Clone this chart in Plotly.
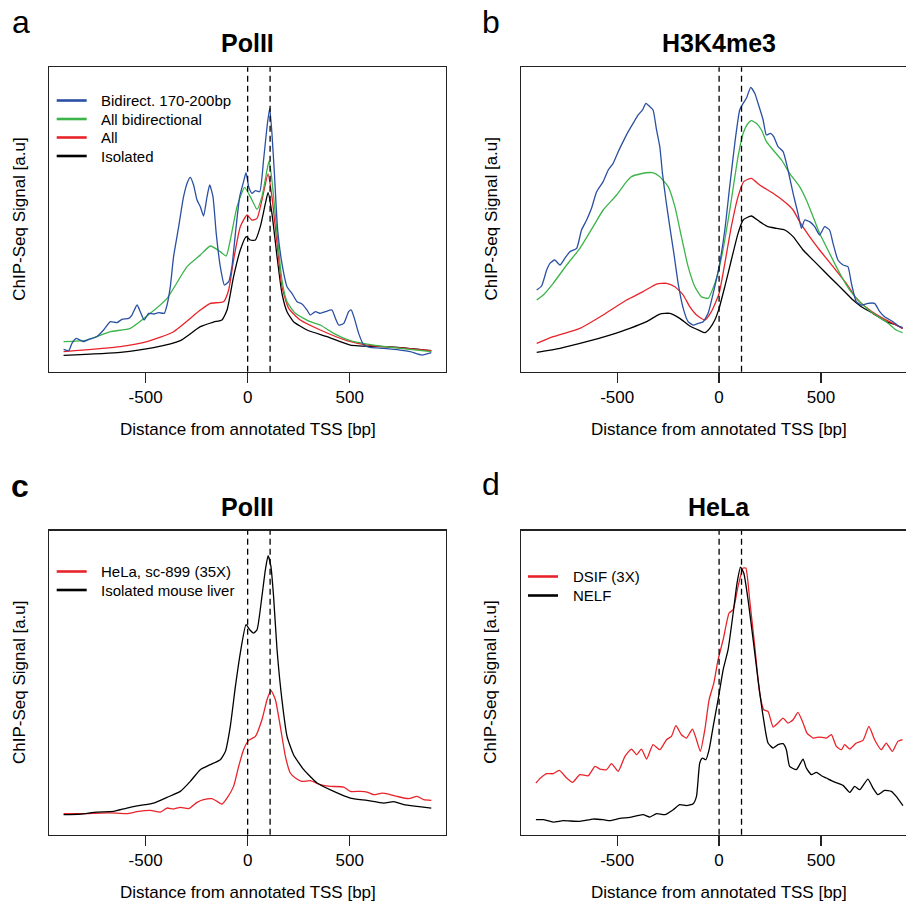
import plotly.graph_objects as go

# ---------------- data (x: bp from TSS, y: signal a.u.) ----------------
# Panel a: PolII
a_blue_x = [-902,-877,-861,-840,-804,-779,-739,-706,-673,-641,-616,-583,-567,-542,-526,-507,-485,-461,-436,-409,-395,-379,-363,-338,-314,-294,-281,-265,-248,-232,-216,-199,-186,-170,-154,-134,-114,-93,-77,-60,-39,-20,-8,5,21,38,59,78,95,108,119,131,147,168,193,217,242,266,291,307,332,356,381,413,430,446,471,495,508,523,544,569,601,667,748,797,855,900]
a_blue_y = [67,63,85,100,90,97,105,125,150,147,157,160,170,200,180,155,175,173,177,175,200,255,345,435,525,570,583,560,515,495,467,525,560,525,415,315,260,270,315,415,525,570,597,555,535,543,540,635,735,790,715,595,425,325,255,235,210,203,185,170,180,175,180,185,160,140,145,180,185,160,115,80,73,70,65,60,50,57]
a_green_x = [-902,-788,-673,-575,-477,-395,-297,-232,-183,-134,-105,-85,-52,-15,13,46,70,95,105,119,144,168,193,234,307,356,422,503,585,748,900]
a_green_y = [90,95,120,130,175,220,315,350,377,360,347,395,495,553,525,487,525,605,632,575,415,275,210,175,150,140,115,93,83,70,60]
a_red_x = [-902,-624,-493,-363,-232,-183,-118,-93,-69,-36,-3,21,46,70,100,119,144,168,201,258,356,487,585,716,900]
a_red_y = [60,75,90,120,185,205,210,245,335,435,470,455,460,515,593,525,385,255,190,155,125,93,80,73,63]
a_black_x = [-902,-624,-461,-330,-232,-167,-126,-101,-69,-36,-7,13,38,62,87,100,119,144,168,193,225,291,389,503,667,748,900]
a_black_y = [49,58,72,93,135,149,155,185,285,365,405,395,395,435,505,537,475,345,235,180,150,125,105,80,75,72,63]

# Panel b: H3K4me3
b_blue_x = [-895,-871,-846,-830,-806,-781,-757,-732,-699,-675,-650,-626,-601,-569,-544,-520,-495,-471,-446,-422,-397,-376,-359,-340,-324,-307,-291,-278,-261,-242,-222,-201,-176,-152,-127,-103,-78,-54,-29,0,28,52,77,101,118,134,155,175,191,216,232,252,268,289,314,338,363,387,404,420,444,469,493,518,542,559,583,608,632,649,673,698,730,763,788,812,853,886,900]
b_blue_y = [245,257,305,325,335,320,340,360,370,425,455,490,540,570,605,625,660,690,720,745,770,785,805,795,785,725,675,595,515,435,355,265,190,150,140,145,150,175,235,315,425,555,685,785,805,820,853,835,805,755,710,715,705,675,660,605,535,475,430,455,450,435,410,435,425,385,335,320,315,265,210,200,205,205,180,165,150,135,133]
b_green_x = [-895,-863,-814,-748,-683,-618,-569,-503,-454,-430,-389,-327,-291,-250,-217,-185,-152,-119,-87,-54,-21,0,28,60,93,118,142,158,183,208,232,265,306,346,395,428,461,493,542,592,641,690,755,820,869,900]
b_green_y = [215,230,265,320,370,435,485,530,570,585,593,597,585,555,495,405,315,255,225,220,265,310,395,515,645,715,745,753,745,725,690,665,635,595,555,515,465,415,355,295,245,210,175,150,125,117]
b_red_x = [-895,-814,-683,-569,-454,-373,-307,-258,-217,-176,-144,-111,-70,-38,0,28,60,93,121,158,199,265,330,363,395,444,493,559,624,673,739,804,853,900]
b_red_y = [85,105,130,170,215,240,263,265,255,230,195,170,155,180,235,325,435,525,570,580,560,535,505,485,450,405,365,315,265,220,185,160,145,130]
b_black_x = [-895,-781,-650,-536,-438,-356,-291,-242,-193,-144,-95,-70,-46,-21,0,28,60,93,118,158,199,240,281,322,363,412,477,542,608,657,698,755,820,869,900]
b_black_y = [58,70,90,110,130,150,173,175,160,137,123,117,130,155,190,255,335,415,455,467,450,435,430,425,405,365,325,285,245,215,195,175,150,140,130]

# Panel c: PolII, HeLa vs mouse liver
c_black_x = [-902,-820,-739,-657,-592,-526,-461,-395,-330,-281,-232,-183,-134,-109,-85,-60,-36,-8,10,29,46,70,87,100,114,127,144,168,193,225,275,340,422,503,585,667,716,765,830,900]
c_black_y = [60,62,68,70,80,88,95,112,130,160,195,210,225,250,325,445,545,630,615,605,615,715,795,837,805,715,555,405,295,240,195,155,130,110,103,95,99,90,85,80]
c_red_x = [-902,-804,-722,-641,-592,-543,-477,-428,-395,-363,-330,-289,-248,-216,-175,-150,-126,-101,-69,-44,-20,5,38,70,95,114,136,160,185,209,234,266,307,356,405,471,503,552,585,618,659,691,732,789,830,863,900]
c_red_y = [63,63,65,65,63,69,73,68,80,77,82,78,97,105,108,100,92,110,145,205,255,283,295,345,405,433,405,325,235,185,170,160,162,150,145,143,130,130,128,120,125,122,115,108,115,105,103]

# Panel d: HeLa DSIF / NELF
d_black_x = [-899,-863,-814,-765,-683,-618,-569,-536,-487,-438,-373,-340,-307,-266,-225,-193,-160,-127,-111,-95,-82,-65,-49,-29,-5,20,44,69,88,105,121,142,167,191,216,240,265,289,314,330,346,379,395,412,428,453,477,502,526,559,608,641,665,690,730,755,779,812,845,869,902]
d_black_y = [45,45,38,42,40,47,45,42,49,52,60,53,63,60,75,90,87,93,115,215,230,225,255,325,405,495,555,665,755,803,785,705,585,465,355,275,260,270,273,255,205,195,210,227,200,180,187,177,170,160,148,127,145,135,167,140,120,133,130,115,87]
d_red_x = [-899,-876,-846,-814,-784,-748,-719,-683,-642,-609,-585,-552,-528,-495,-462,-430,-405,-381,-356,-324,-291,-258,-234,-212,-185,-160,-131,-111,-92,-70,-49,-26,-5,20,49,69,93,118,131,150,175,199,219,240,265,289,314,338,363,387,412,431,461,493,526,551,575,600,616,641,673,706,735,763,796,820,850,877,900]
d_red_y = [155,170,183,183,193,170,157,180,177,205,197,195,213,190,235,257,240,257,227,270,255,285,295,327,300,290,317,285,250,315,405,455,525,585,665,675,745,800,800,705,565,425,375,370,323,335,350,335,345,367,335,305,290,293,290,300,265,255,270,257,275,283,325,285,255,275,250,280,285]

tick_vals = [-500, 0, 500]
tick_text = ["-500", "0", "500"]
tss_marks = [0, 110]

titles = ["PolII", "H3K4me3", "PolII", "HeLa"]
letters = ["a", "b", "<b>c</b>", "d"]
xlabel = "Distance from annotated TSS [bp]"
ylabel = "ChIP-Seq Signal [a.u]"

legend_a = ["Bidirect. 170-200bp", "All bidirectional", "All", "Isolated"]
legend_c = ["HeLa, sc-899 (35X)", "Isolated mouse liver"]
legend_d = ["DSIF (3X)", "NELF"]

# ---------------- styling ----------------
W = H = 906
FONT = "Liberation Sans, Arial, Helvetica, sans-serif"
BLUE = "#2a4fa3"
GREEN = "#3bb44a"
RED = "#e8232a"
BLACK = "#000000"

def px_x(p):
    return p / W

def px_y(p):
    return 1 - p / H

# panel geometry in pixels: (left, right, top, bottom), x range, y range, draw right border
panels = [
    dict(box=(49.3, 446, 67.3, 371.7), xr=[-972, 972], yr=[0, 913], right=True, cx=247.5),
    dict(box=(521, 906, 67.3, 371.7), xr=[-972, 917], yr=[0, 913], right=False, cx=719.3),
    dict(box=(49.3, 446, 530.7, 834.7), xr=[-972, 972], yr=[0, 912], right=True, cx=247.5),
    dict(box=(521, 906, 530.7, 834.7), xr=[-972, 917], yr=[0, 912], right=False, cx=719.3),
]

fig = go.Figure()

series = [
    [(a_black_x, a_black_y, BLACK), (a_red_x, a_red_y, RED), (a_green_x, a_green_y, GREEN), (a_blue_x, a_blue_y, BLUE)],
    [(b_black_x, b_black_y, BLACK), (b_red_x, b_red_y, RED), (b_green_x, b_green_y, GREEN), (b_blue_x, b_blue_y, BLUE)],
    [(c_red_x, c_red_y, RED), (c_black_x, c_black_y, BLACK)],
    [(d_red_x, d_red_y, RED), (d_black_x, d_black_y, BLACK)],
]

layout = dict(
    width=W, height=H,
    margin=dict(l=0, r=0, t=0, b=0, pad=0),
    paper_bgcolor="white", plot_bgcolor="white",
    showlegend=False,
    font=dict(family=FONT, color="black", size=17),
)

shapes = []
annotations = []

for i, p in enumerate(panels):
    n = "" if i == 0 else str(i + 1)
    l, r, t, b = p["box"]
    for xs, ys, col in series[i]:
        fig.add_trace(go.Scatter(x=xs, y=ys, mode="lines",
                                 line=dict(color=col, width=1.3, shape="spline", smoothing=0.5),
                                 xaxis="x" + n, yaxis="y" + n, hoverinfo="skip"))
    layout["xaxis" + n] = dict(
        domain=[px_x(l), px_x(r)], range=p["xr"], anchor="y" + n,
        showline=True, mirror=True, linecolor="#222", linewidth=1.3,
        ticks="outside", ticklen=10, tickwidth=1.3, tickcolor="#222",
        tickvals=tick_vals, ticktext=tick_text,
        tickfont=dict(family=FONT, size=17, color="black"),
        showgrid=False, zeroline=False, fixedrange=True,
    )
    layout["yaxis" + n] = dict(
        domain=[px_y(b), px_y(t)], range=p["yr"], anchor="x" + n,
        showline=True, mirror=p["right"], linecolor="#222", linewidth=1.3,
        ticks="", showticklabels=False, showgrid=False, zeroline=False, fixedrange=True,
    )
    for v in tss_marks:
        shapes.append(dict(type="line", xref="x" + n, yref="y" + n + " domain",
                           x0=v, x1=v, y0=0, y1=1,
                           line=dict(color="black", width=1.3, dash="6px,4px")))
    # title
    annotations.append(dict(text="<b>" + titles[i] + "</b>", xref="paper", yref="paper",
                            x=px_x(p["cx"]), y=px_y(t - 24), xanchor="center", yanchor="middle",
                            showarrow=False, font=dict(family=FONT, size=25, color="black")))
    # x label
    annotations.append(dict(text=xlabel, xref="paper", yref="paper",
                            x=px_x(p["cx"]), y=px_y(b + 58), xanchor="center", yanchor="middle",
                            showarrow=False, font=dict(family=FONT, size=17, color="black")))
    # y label
    annotations.append(dict(text=ylabel, xref="paper", yref="paper", textangle=-90,
                            x=px_x(l - 30), y=px_y((t + b) / 2), xanchor="center", yanchor="middle",
                            showarrow=False, font=dict(family=FONT, size=17, color="black")))

# panel letters
letter_pos = [(20.5, 22), (491, 22), (19.8, 486), (491, 484)]
for (lx, ly), txt in zip(letter_pos, letters):
    annotations.append(dict(text=txt, xref="paper", yref="paper", x=px_x(lx), y=px_y(ly),
                            xanchor="center", yanchor="middle", showarrow=False,
                            font=dict(family=FONT, size=32, color="black")))

# manual legends
def add_legend(labels, colors, x0, ys):
    for lab, col, yy in zip(labels, colors, ys):
        shapes.append(dict(type="line", xref="paper", yref="paper",
                           x0=px_x(x0), x1=px_x(x0 + 30), y0=px_y(yy), y1=px_y(yy),
                           line=dict(color=col, width=2.6)))
        annotations.append(dict(text=lab, xref="paper", yref="paper",
                                x=px_x(x0 + 42.5), y=px_y(yy), xanchor="left", yanchor="middle",
                                showarrow=False, font=dict(family=FONT, size=15, color="black")))

add_legend(legend_a, [BLUE, GREEN, RED, BLACK], 56.7, [100.5, 119, 137.5, 156])
add_legend(legend_c, [RED, BLACK], 56.7, [571.5, 590])
add_legend(legend_d, [RED, BLACK], 528, [576.5, 595.5])

layout["shapes"] = shapes
layout["annotations"] = annotations
fig.update_layout(**layout)

fig.write_html("out.html",
               config={"displayModeBar": False, "staticPlot": True},
               post_script="document.body.style.margin='0';document.body.style.overflow='hidden';")
